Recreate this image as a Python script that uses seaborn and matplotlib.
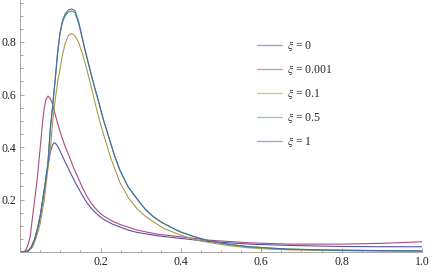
import numpy as np
import pandas as pd
import seaborn as sns
import matplotlib.pyplot as plt
from matplotlib.ticker import MultipleLocator, FixedLocator

# curves
x_xi0 = [0, 0.01, 0.02, 0.03, 0.036, 0.044, 0.05, 0.057, 0.063, 0.068, 0.072, 0.076, 0.08, 0.084,
         0.088, 0.092, 0.096, 0.103, 0.112, 0.124, 0.133, 0.143, 0.155, 0.165, 0.175, 0.185, 0.196,
         0.207, 0.23, 0.25, 0.27, 0.29, 0.34, 0.398, 0.47, 0.57, 0.67, 0.8, 0.9, 1.0]
y_xi0 = [0, 0, 0.004, 0.018, 0.045, 0.09, 0.135, 0.2, 0.265, 0.318, 0.355, 0.386, 0.406, 0.416,
         0.414, 0.406, 0.395, 0.372, 0.342, 0.305, 0.277, 0.248, 0.215, 0.19, 0.17, 0.153, 0.138,
         0.125, 0.106, 0.094, 0.083, 0.075, 0.062, 0.052, 0.04, 0.03, 0.025, 0.021, 0.02, 0.02]

x_xi0001 = [0, 0.01, 0.015, 0.02, 0.025, 0.03, 0.037, 0.042, 0.05, 0.056, 0.06, 0.064, 0.069, 0.075,
            0.08, 0.086, 0.094, 0.102, 0.113, 0.124, 0.133, 0.143, 0.155, 0.165, 0.175, 0.185, 0.196,
            0.207, 0.23, 0.25, 0.29, 0.34, 0.398, 0.47, 0.57, 0.67, 0.8, 0.9, 1.0]
y_xi0001 = [0, 0.002, 0.01, 0.03, 0.06, 0.125, 0.21, 0.274, 0.401, 0.5, 0.55, 0.58, 0.594, 0.585,
            0.565, 0.53, 0.485, 0.445, 0.397, 0.357, 0.32, 0.287, 0.245, 0.215, 0.19, 0.17, 0.152,
            0.138, 0.117, 0.104, 0.084, 0.068, 0.058, 0.045, 0.035, 0.03, 0.03, 0.033, 0.039]

x_xi01 = [0, 0.01, 0.02, 0.03, 0.04, 0.05, 0.06, 0.07, 0.076, 0.081, 0.088, 0.094, 0.099, 0.105,
          0.112, 0.12, 0.127, 0.135, 0.145, 0.155, 0.165, 0.175, 0.186, 0.197, 0.21, 0.225, 0.248,
          0.27, 0.29, 0.31, 0.331, 0.36, 0.398, 0.44, 0.47, 0.52, 0.57, 0.62, 0.67, 0.75, 0.85, 1.0]
y_xi01 = [0, 0, 0.003, 0.018, 0.055, 0.11, 0.2, 0.33, 0.41, 0.5, 0.59, 0.655, 0.695, 0.75,
          0.795, 0.825, 0.832, 0.826, 0.8, 0.755, 0.7, 0.64, 0.57, 0.503, 0.435, 0.36, 0.265,
          0.205, 0.166, 0.138, 0.115, 0.088, 0.065, 0.045, 0.036, 0.024, 0.016, 0.011, 0.008, 0.006,
          0.004, 0.003]

x_xi05 = [0, 0.01, 0.02, 0.028, 0.036, 0.044, 0.05, 0.057, 0.063, 0.069, 0.075, 0.08, 0.087, 0.093,
          0.099, 0.105, 0.112, 0.12, 0.128, 0.136, 0.145, 0.151, 0.16, 0.172, 0.183, 0.194, 0.207,
          0.22, 0.233, 0.248, 0.268, 0.29, 0.31, 0.331, 0.352, 0.373, 0.398, 0.43, 0.47, 0.52, 0.57,
          0.62, 0.67, 0.75, 0.85, 1.0]
y_xi05 = [0, 0, 0.005, 0.02, 0.05, 0.096, 0.14, 0.211, 0.27, 0.338, 0.47, 0.545, 0.655, 0.755,
          0.83, 0.874, 0.9, 0.914, 0.918, 0.912, 0.873, 0.835, 0.775, 0.703, 0.638, 0.578, 0.504,
          0.44, 0.375, 0.312, 0.25, 0.204, 0.165, 0.135, 0.113, 0.096, 0.077, 0.06, 0.042, 0.029, 0.02,
          0.015, 0.011, 0.008, 0.006, 0.004]

x_xi1 = [0, 0.01, 0.02, 0.028, 0.036, 0.044, 0.05, 0.057, 0.063, 0.069, 0.075, 0.08, 0.087, 0.093,
         0.099, 0.105, 0.112, 0.12, 0.128, 0.136, 0.145, 0.151, 0.16, 0.172, 0.183, 0.194, 0.207,
         0.22, 0.233, 0.248, 0.268, 0.29, 0.31, 0.331, 0.352, 0.373, 0.398, 0.43, 0.47, 0.52, 0.57,
         0.62, 0.67, 0.75, 0.85, 1.0]
y_xi1 = [0, 0, 0.005, 0.02, 0.05, 0.096, 0.14, 0.211, 0.27, 0.338, 0.47, 0.545, 0.655, 0.76,
         0.835, 0.88, 0.907, 0.922, 0.926, 0.92, 0.88, 0.84, 0.78, 0.706, 0.64, 0.58, 0.505,
         0.44, 0.375, 0.312, 0.25, 0.204, 0.165, 0.135, 0.113, 0.096, 0.077, 0.06, 0.042, 0.029, 0.02,
         0.015, 0.011, 0.008, 0.006, 0.004]

labels = [r'$\xi$ = 0', r'$\xi$ = 0.001', r'$\xi$ = 0.1', r'$\xi$ = 0.5', r'$\xi$ = 1']
colors = ['#5553a8', '#a94b82', '#aa9a4a', '#4aa865', '#4a6aa8']

frames = []
for lab, xs, ys in zip(labels, [x_xi0, x_xi0001, x_xi01, x_xi05, x_xi1],
                       [y_xi0, y_xi0001, y_xi01, y_xi05, y_xi1]):
    frames.append(pd.DataFrame({'x': xs, 'y': ys, 'curve': lab}))
df = pd.concat(frames, ignore_index=True)

sns.set_style('white')
plt.rcParams['font.family'] = ['Liberation Serif', 'DejaVu Serif']
plt.rcParams['mathtext.fontset'] = 'stix'

fig = plt.figure(figsize=(4.34, 2.72), dpi=100)
ax = fig.add_axes([20.2 / 434, 20 / 272, 401.8 / 434, 252 / 272])

sns.lineplot(data=df, x='x', y='y', hue='curve', palette=colors, hue_order=labels,
             estimator=None, sort=False, linewidth=0.8, ax=ax)

ax.set_xlim(0, 1.0)
ax.set_ylim(0, 0.96)
ax.set_xlabel('')
ax.set_ylabel('')

for s in ['top', 'right']:
    ax.spines[s].set_visible(False)
for s in ['left', 'bottom']:
    ax.spines[s].set_color('#999999')
    ax.spines[s].set_linewidth(0.6)

ax.xaxis.set_major_locator(FixedLocator([0.2, 0.4, 0.6, 0.8, 1.0]))
ax.yaxis.set_major_locator(FixedLocator([0.2, 0.4, 0.6, 0.8]))
ax.xaxis.set_minor_locator(MultipleLocator(0.05))
ax.yaxis.set_minor_locator(MultipleLocator(0.05))
ax.xaxis.set_major_formatter(lambda v, p: f'{v:.1f}')
ax.yaxis.set_major_formatter(lambda v, p: f'{v:.1f}')
ax.tick_params(which='both', direction='in', color='#999999', width=0.6, labelsize=8.5,
               labelcolor='#222222')
ax.tick_params(which='major', length=3.2, pad=3)
ax.tick_params(which='minor', length=1.8)
ax.tick_params(axis='both', which='both', bottom=True, left=True)

leg = ax.legend(loc='upper left', bbox_to_anchor=(0.589, 0.845), frameon=False,
                fontsize=8.5, handlelength=2.1, handletextpad=0.45, labelspacing=0.84,
                borderpad=0, borderaxespad=0)
for line in leg.get_lines():
    line.set_linewidth(1.0)
    line.set_alpha(0.55)

fig.savefig('out.png', dpi=100)
